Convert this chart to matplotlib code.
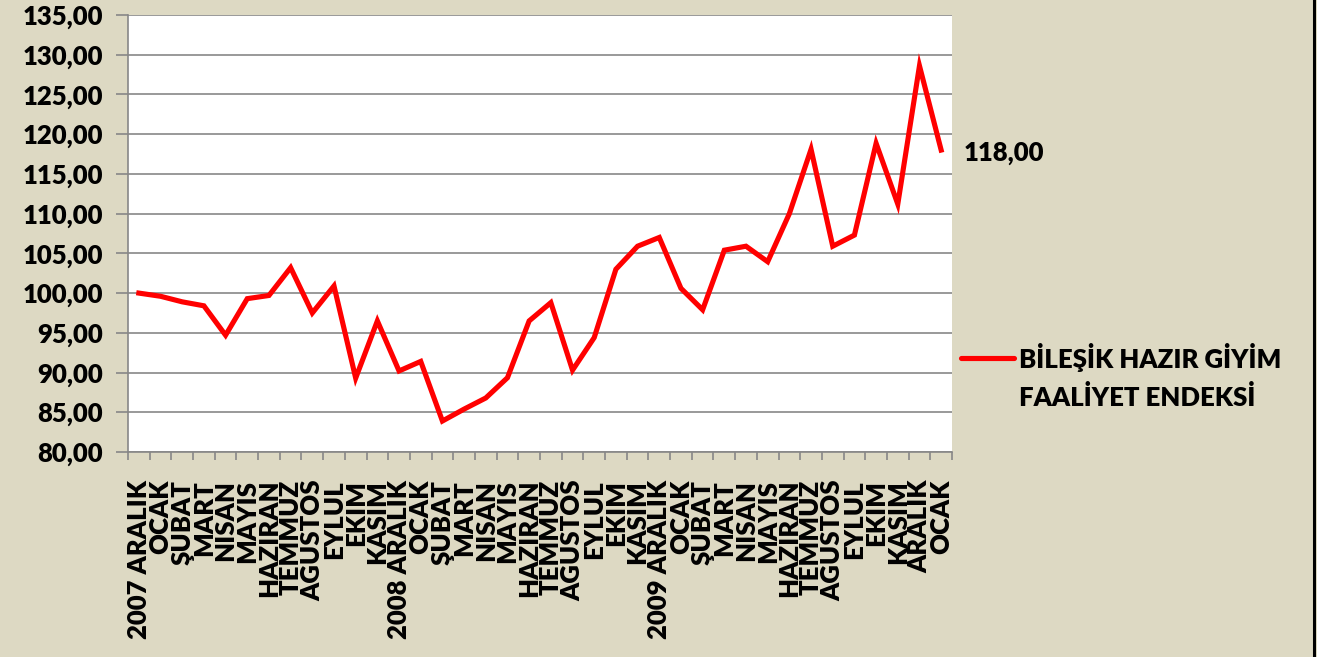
import matplotlib
matplotlib.use("Agg")
import matplotlib.pyplot as plt
from matplotlib.lines import Line2D

categories = ["2007 ARALIK", "OCAK", "ŞUBAT", "MART", "NISAN", "MAYIS", "HAZIRAN",
              "TEMMUZ", "AGUSTOS", "EYLUL", "EKIM", "KASIM",
              "2008 ARALIK", "OCAK", "ŞUBAT", "MART", "NISAN", "MAYIS", "HAZIRAN",
              "TEMMUZ", "AGUSTOS", "EYLUL", "EKIM", "KASIM",
              "2009 ARALIK", "OCAK", "ŞUBAT", "MART", "NISAN", "MAYIS", "HAZIRAN",
              "TEMMUZ", "AGUSTOS", "EYLUL", "EKIM", "KASIM", "ARALIK", "OCAK"]
values = [100.0, 99.6, 98.9, 98.4, 94.7, 99.3, 99.7, 103.2, 97.5, 100.9, 89.3, 96.5,
          90.2, 91.4, 83.9, 85.4, 86.8, 89.35, 96.5, 98.8, 90.3, 94.4, 103.0, 105.9,
          107.0, 100.6, 97.9, 105.4, 105.9, 103.95, 110.0, 118.1, 105.9, 107.3,
          118.85, 111.2, 128.6, 118.0]
series_name = ["BİLEŞİK HAZIR GİYİM", "FAALİYET ENDEKSİ"]
last_label = "118,00"
yticks = [80, 85, 90, 95, 100, 105, 110, 115, 120, 125, 130, 135]

bg = "#DDD9C3"
font = ["Lato", "DejaVu Sans"]
fs = 18.5
fw = "heavy"

fig = plt.figure(figsize=(13.17, 6.57), dpi=100, facecolor=bg)
ax = fig.add_axes([128/1317, 1-452/657, 824/1317, 437/657])
ax.set_facecolor("white")

n = len(values)
x = list(range(n))
ax.plot(x, values, color="#FF0000", lw=3.7, solid_joinstyle="miter", zorder=3)

ax.set_xlim(-0.5, n - 0.5)
ax.set_ylim(80, 135)
ax.set_yticks(yticks)
ax.set_yticklabels([f"{v:.2f}".replace(".", ",") for v in yticks],
                   fontsize=fs, fontweight=fw, family=font)
ax.yaxis.grid(True, color="#878787", lw=1.2)
ax.set_axisbelow(True)

ax.set_xticks(x)
ax.set_xticklabels(categories, rotation=90, fontsize=fs, fontweight=fw,
                   family=font, va="top", ha="center")
ax.set_xticks([i - 0.5 for i in range(n + 1)], minor=True)
ax.tick_params(axis="x", which="major", length=0, pad=20)
ax.tick_params(axis="x", which="minor", length=6, color="#878787", width=1.2)
ax.tick_params(axis="y", length=9, color="#878787", width=1.2, pad=9)

for s in ["top", "right"]:
    ax.spines[s].set_visible(False)
for s in ["left", "bottom"]:
    ax.spines[s].set_color("#878787")
    ax.spines[s].set_linewidth(1.2)

ax.annotate(last_label, xy=(n - 1, values[-1]), xytext=(16, -2),
            textcoords="offset points", fontsize=fs, fontweight=fw,
            family=font, va="center", ha="left", annotation_clip=False)

# legend (drawn manually so the key aligns with the first text line)
fig.add_artist(Line2D([961/1317, 1014/1317], [1-358/657, 1-358/657],
                      color="#FF0000", lw=3.7, solid_capstyle="round",
                      transform=fig.transFigure))
for i, line in enumerate(series_name):
    fig.text(1019/1317, 1-(358 + 40*i)/657, line, fontsize=fs, fontweight=fw,
             family=font, va="center", ha="left")

fig.add_artist(Line2D([1313.5/1317, 1313.5/1317], [0, 1], color="black", lw=2.2,
                      transform=fig.transFigure))

fig.savefig("out.png", dpi=100, facecolor=bg)
